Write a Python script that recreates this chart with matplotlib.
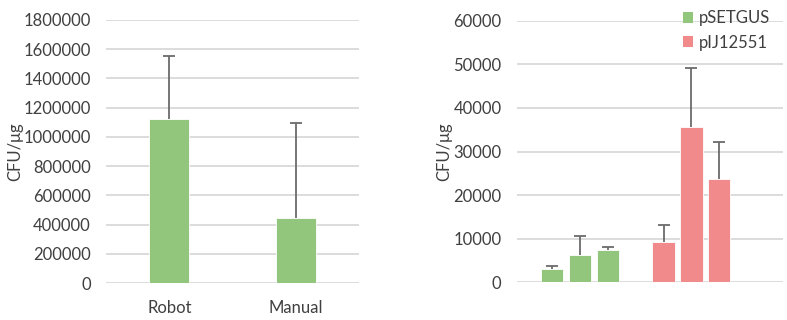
import matplotlib
matplotlib.use('Agg')
import matplotlib.pyplot as plt
from matplotlib.patches import Patch
from matplotlib.ticker import StrMethodFormatter

plt.rcParams['font.family'] = ['Lato', 'DejaVu Sans']

# left panel: robot vs manual
methods = ['Robot', 'Manual']
method_cfu = [1120000, 447000]
method_err = [431000, 648000]

# right panel: two plasmids, three replicates each
psetgus_cfu = [2980, 6190, 7490]
psetgus_err = [840, 4510, 690]
pij_cfu = [9250, 35540, 23690]
pij_err = [3970, 13600, 8490]
series_names = ['pSETGUS', 'pIJ12551']

green = '#93C67D'
pink = '#F18A8B'
err_col = '#6b6b6b'
grid_col = '#d9d9d9'
txt_col = '#404040'
fs = 12

fig = plt.figure(figsize=(7.87, 3.2), dpi=100)
ax1 = fig.add_axes([0.1347, 0.1156, 0.3215, 0.8219])
ax2 = fig.add_axes([0.6566, 0.1178, 0.3388, 0.8175])

ekw = dict(ecolor=err_col, elinewidth=1.3, capsize=4.5, capthick=1.3, fmt='none', zorder=3)


def plus_err(ax, x, y, err):
    # Excel style: only the plus side, so drop the lower cap
    _, caps, _ = ax.errorbar(x, y, yerr=[[0] * len(err), err], **ekw)
    caps[0].set_visible(False)


x1 = range(len(methods))
ax1.bar(x1, method_cfu, width=0.316, color=green, edgecolor='white', linewidth=0.6, zorder=2)
plus_err(ax1, x1, method_cfu, method_err)
ax1.set_xlim(-0.5, 1.5)
ax1.set_ylim(0, 1800000)
ax1.set_yticks(range(0, 1800001, 200000))
ax1.yaxis.set_major_formatter(StrMethodFormatter('{x:.0f}'))
ax1.set_xticks(list(x1))
ax1.set_xticklabels(methods)

gx = [0, 1, 2]
px = [4, 5, 6]
ax2.bar(gx, psetgus_cfu, width=0.8, color=green, edgecolor='white', linewidth=0.6, zorder=2)
ax2.bar(px, pij_cfu, width=0.8, color=pink, edgecolor='white', linewidth=0.6, zorder=2)
plus_err(ax2, gx, psetgus_cfu, psetgus_err)
plus_err(ax2, px, pij_cfu, pij_err)
ax2.set_xlim(-1.275, 8.30)
ax2.set_ylim(0, 60000)
ax2.set_yticks(range(0, 60001, 10000))
ax2.set_xticks([])

# y labels placed in figure coords
fig.text(15.5 / 787, 1 - 151.5 / 320, 'CFU/μg', rotation=90, ha='center', va='center',
         fontsize=12, color=txt_col)
fig.text(444 / 787, 1 - 151.5 / 320, 'CFU/μg', rotation=90, ha='center', va='center',
         fontsize=12, color=txt_col)

handles = [Patch(facecolor=green, edgecolor='none'), Patch(facecolor=pink, edgecolor='none')]
ax2.legend(handles, series_names, loc='upper left', bbox_to_anchor=(0.868, 0.968),
           bbox_transform=fig.transFigure, frameon=False, fontsize=fs,
           handlelength=0.6, handleheight=0.6, handletextpad=0.35,
           labelspacing=0.5, labelcolor=txt_col, borderaxespad=0, borderpad=0)

for ax in (ax1, ax2):
    for s in ax.spines.values():
        s.set_visible(False)
    ax.grid(axis='y', color=grid_col, linewidth=1.3, zorder=0)
    ax.set_axisbelow(True)
    ax.tick_params(axis='y', length=0, pad=11, labelsize=fs, labelcolor=txt_col)
    ax.tick_params(axis='x', length=0, pad=12, labelsize=fs, labelcolor=txt_col)

fig.savefig('out.png', dpi=100)
